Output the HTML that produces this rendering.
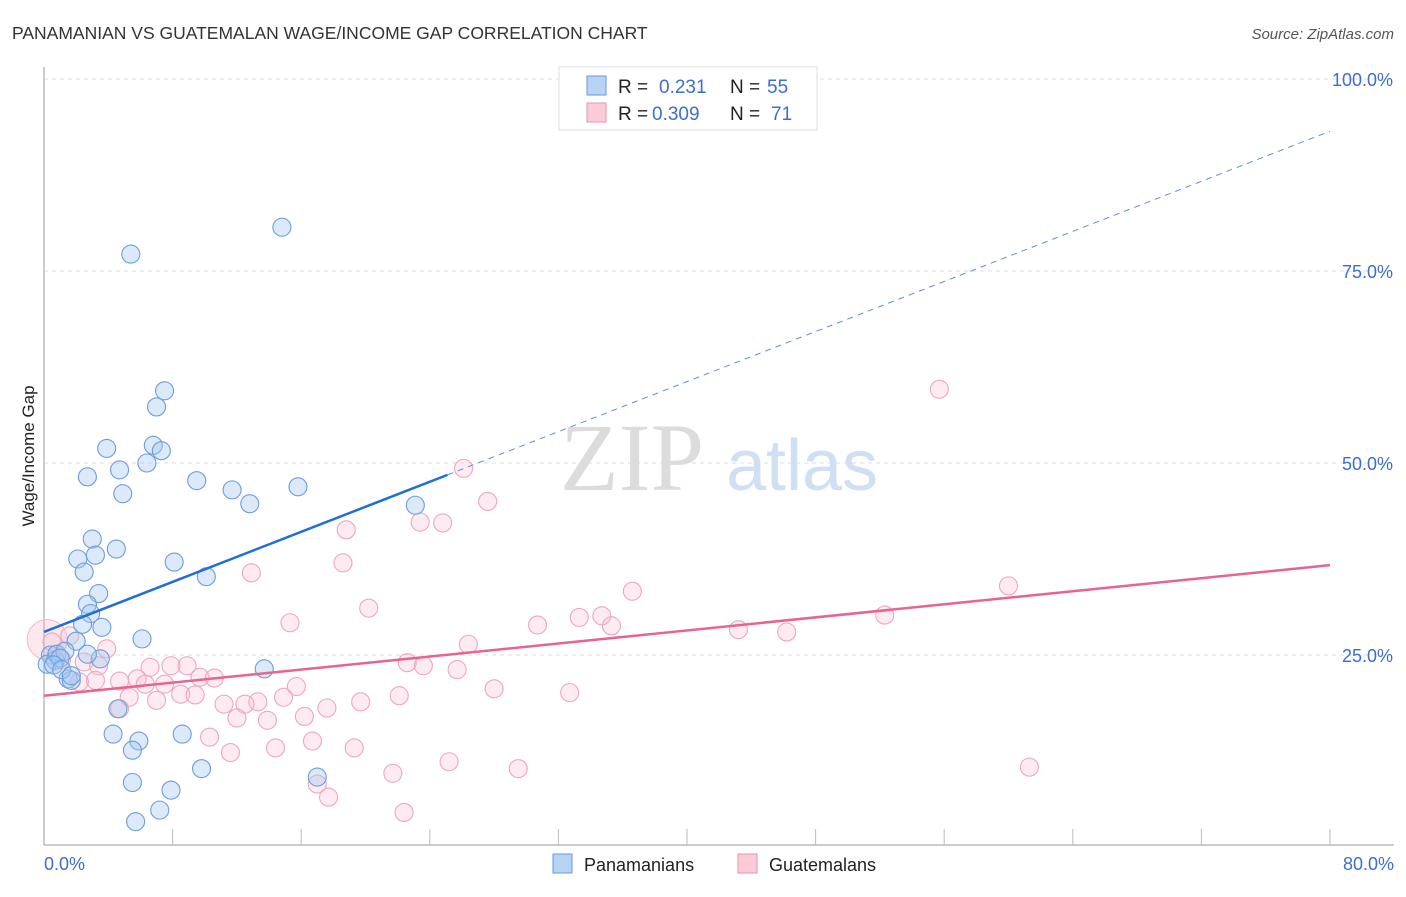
<!DOCTYPE html>
<html><head><meta charset="utf-8"><style>
body{margin:0;background:#fff;font-family:"Liberation Sans",sans-serif}
svg text{font-family:"Liberation Sans",sans-serif}
</style></head><body>
<svg id="chart" width="1406" height="892" xmlns="http://www.w3.org/2000/svg">
<text x="12" y="39" font-size="17.5" fill="#333">PANAMANIAN VS GUATEMALAN WAGE/INCOME GAP CORRELATION CHART</text>
<text x="1394" y="39" font-size="15" fill="#555" text-anchor="end" font-style="italic">Source: ZipAtlas.com</text>
<g>
<text x="632" y="490" font-size="96" fill="#dcdcdc" text-anchor="middle" font-family="Liberation Serif" style="font-family:'Liberation Serif',serif">ZIP</text>
<text x="802" y="490" font-size="72" fill="#cfe0f4" text-anchor="middle">atlas</text>
</g>
<g id="grid"></g>
<g id="axes"></g>
<g id="marks"></g>
<text transform="translate(34,456) rotate(-90)" font-size="17" fill="#222" text-anchor="middle">Wage/Income Gap</text>
<g>
<rect x="559" y="67" width="258" height="63" fill="#fff" stroke="#ddd"/>
<rect x="587" y="76" width="19" height="19" fill="#b8d4f4" stroke="#6a9ad8"/>
<text x="618" y="93" font-size="19" fill="#222">R =</text><text x="659" y="93" font-size="19" fill="#3b6fcc">0.231</text>
<text x="730" y="93" font-size="19" fill="#222">N =</text><text x="767" y="93" font-size="19" fill="#3b6fcc">55</text>
<rect x="587" y="103" width="19" height="19" fill="#fbcbd8" stroke="#e890ab"/>
<text x="618" y="120" font-size="19" fill="#222">R =</text><text x="652" y="120" font-size="19" fill="#3b6fcc">0.309</text>
<text x="730" y="120" font-size="19" fill="#222">N =</text><text x="771" y="120" font-size="19" fill="#3b6fcc">71</text>
</g>
<g>
<rect x="553" y="854" width="19" height="19" fill="#b8d4f4" stroke="#6a9ad8"/>
<text x="584" y="871" font-size="18" fill="#222">Panamanians</text>
<rect x="738" y="854" width="19" height="19" fill="#fbcbd8" stroke="#e890ab"/>
<text x="769" y="871" font-size="18" fill="#222">Guatemalans</text>
</g>
</svg>
<script>
const xTicks=[0,8,16,24,32,40,48,56,64,72,80];
const yTicks=[25,50,75,100];
const yTickLabels=["25.0%","50.0%","75.0%","100.0%"];
const xEndLabels=["0.0%","80.0%"];
const panX=[14.8,5.4,7.5,7.0,3.9,6.8,7.3,6.4,4.7,2.7,9.5,11.7,4.9,12.8,15.8,23.1,3.0,3.2,4.5,2.1,2.5,8.1,10.1,3.4,2.7,2.9,2.4,3.6,6.1,2.0,0.4,0.7,0.2,3.5,0.8,1.3,13.7,1.5,1.7,4.6,4.3,5.9,8.6,5.5,9.8,17.0,5.5,7.9,7.2,5.7,1.0,0.6,1.1,1.7,2.7];
const panY=[80.7,77.2,59.4,57.3,51.9,52.3,51.6,50.0,49.1,48.2,47.7,46.5,46.0,44.7,46.9,44.5,40.1,38.0,38.8,37.5,35.8,37.1,35.2,33.0,31.6,30.4,29.0,28.6,27.1,26.8,25.0,24.3,23.8,24.5,25.1,25.5,23.2,21.9,21.7,18.0,14.7,13.8,14.7,12.6,10.2,9.1,8.4,7.4,4.8,3.3,24.6,23.7,23.1,22.3,25.1];
const guaX=[55.7,26.1,27.6,23.4,24.8,18.8,18.6,12.9,36.6,20.2,60.0,15.3,33.3,34.7,35.3,30.7,52.3,43.2,46.2,26.4,22.6,23.6,25.7,3.9,1.6,2.5,1.1,0.5,3.4,6.6,8.9,7.9,9.7,10.6,5.8,4.7,3.2,2.2,7.5,6.3,15.7,8.5,9.4,5.3,7.0,28.0,32.7,22.1,14.9,11.2,19.7,17.6,13.3,12.5,4.7,12.0,13.9,16.2,10.3,11.6,14.4,16.7,19.3,21.7,25.2,29.5,61.3,17.0,17.7,22.4,0.2];
const guaY=[59.6,49.3,45.0,42.3,42.2,41.3,37.0,35.7,33.3,31.1,34.0,29.2,29.9,30.1,28.8,28.9,30.2,28.3,28.0,26.4,24.0,23.6,23.1,25.8,27.5,24.1,24.4,26.7,23.6,23.4,23.6,23.6,22.1,22.0,21.9,21.6,21.7,21.5,21.2,21.2,20.9,19.9,19.8,19.5,19.1,20.6,20.1,19.7,19.5,18.6,18.9,18.1,18.9,18.6,18.0,16.8,16.5,17.0,14.3,12.3,12.9,13.8,12.9,9.6,11.1,10.2,10.4,8.2,6.5,4.5,27.0];
const panLine=[28.0,93.2]; const panSolidEnd=25.1;
const guaLine=[19.7,36.7];
const X0=44,X1=1330,Y0=847,PX=7.68;
const xs=v=>X0+v/80*(X1-X0), ys=v=>Y0-v*PX;
const NS="http://www.w3.org/2000/svg";
function mk(tag,parent,attrs){const e=document.createElementNS(NS,tag);for(const k in attrs)e.setAttribute(k,attrs[k]);document.getElementById(parent).appendChild(e);return e;}
yTicks.forEach((t,i)=>{
 const l=mk('line','grid',{x1:44,x2:1394,y1:ys(t),y2:ys(t),stroke:'#ddd','stroke-dasharray':'4,4'});
 
 
 const tx=mk('text','grid',{x:1393,y:ys(t)+7,'font-size':18,fill:'#3b6fcc','text-anchor':'end'});tx.textContent=yTickLabels[i];
 
 
});
const ya=mk('line','axes',{x1:44,x2:44,y1:67,y2:845,stroke:'#bbb','stroke-width':1.5});


const xa=mk('line','axes',{x1:44,x2:1394,y1:845,y2:845,stroke:'#bbb','stroke-width':1.5});


xTicks.forEach(t=>{const l=mk('line','axes',{x1:xs(t),x2:xs(t),y1:829,y2:845,stroke:'#bbb'});
 
 });
[[0,'start'],[80,'end']].forEach((p,i)=>{const tx=mk('text','axes',{x:i?1394:44,y:870,'font-size':18,fill:'#3b6fcc','text-anchor':p[1]});tx.textContent=xEndLabels[i];
 
 });
const big=mk('circle','marks',{cx:xs(guaX[70]),cy:ys(guaY[70]),r:20,fill:'rgba(248,180,200,0.3)',stroke:'#f3b5c7'});


guaX.forEach((x,i)=>{if(i===70)return;const c=mk('circle','marks',{cx:xs(x),cy:ys(guaY[i]),r:9,fill:'rgba(248,190,208,0.3)',stroke:'#eea6bc','stroke-width':1.1});
 
 });
panX.forEach((x,i)=>{const c=mk('circle','marks',{cx:xs(x),cy:ys(panY[i]),r:9,fill:'rgba(165,200,240,0.4)',stroke:'#6c9ddc','stroke-width':1.1});
 
 });
const pl=v=>panLine[0]+(panLine[1]-panLine[0])*v/80;
const s1=mk('line','marks',{x1:xs(0),y1:ys(pl(0)),x2:xs(panSolidEnd),y2:ys(pl(panSolidEnd)),stroke:'#1f6fd6','stroke-width':2.5});


const s2=mk('line','marks',{x1:xs(panSolidEnd),y1:ys(pl(panSolidEnd)),x2:xs(80),y2:ys(pl(80)),stroke:'#5b90d8','stroke-width':1,'stroke-dasharray':'6,5'});


const g1=mk('line','marks',{x1:xs(0),y1:ys(guaLine[0]),x2:xs(80),y2:ys(guaLine[1]),stroke:'#e8648f','stroke-width':2.5});


</script>
</body></html>
